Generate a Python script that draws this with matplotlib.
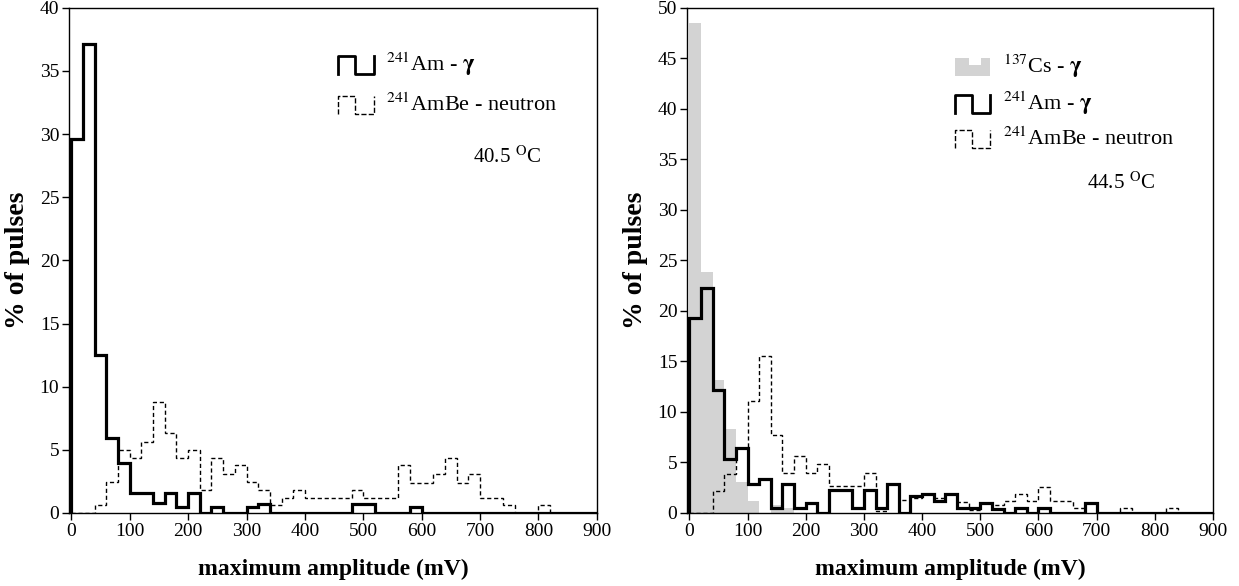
import numpy as np
import matplotlib
matplotlib.use("Agg")
import matplotlib.pyplot as plt
from matplotlib.legend_handler import HandlerBase
from matplotlib.lines import Line2D
from matplotlib.patches import Polygon

plt.rcParams['font.family'] = ['Liberation Serif', 'DejaVu Serif']
plt.rcParams['mathtext.fontset'] = 'stix'

# 20 mV bins from 0 to 900 mV
edges = np.arange(0, 901, 20)

# left panel, 40.5 C
am_left = [29.6, 37.1, 12.5, 5.95, 3.95, 1.55, 1.55, 0.8, 1.55, 0.45,
           1.55, 0, 0.45, 0, 0, 0.45, 0.75, 0, 0, 0,
           0, 0, 0, 0, 0.75, 0.75, 0, 0, 0, 0.45,
           0, 0, 0, 0, 0, 0, 0, 0, 0, 0,
           0, 0, 0, 0, 0]
ambe_left = [0, 0, 0.65, 2.45, 5.0, 4.33, 5.6, 8.8, 6.3, 4.33,
             5.0, 1.85, 4.33, 3.05, 3.8, 2.45, 1.85, 0.6, 1.2, 1.85,
             1.2, 1.2, 1.2, 1.2, 1.85, 1.2, 1.2, 1.2, 3.8, 2.4,
             2.4, 3.1, 4.33, 2.4, 3.1, 1.2, 1.2, 0.6, 0, 0,
             0.6, 0, 0, 0, 0]

# right panel, 44.5 C
cs_right = [48.5, 23.9, 13.2, 8.3, 3.1, 1.2, 0, 0.8, 0.5, 0,
            0, 0, 0, 0, 0, 0, 0, 0, 0, 0,
            0, 0, 0, 0, 0, 0, 0, 0, 0, 0,
            0, 0, 0, 0, 0, 0, 0, 0, 0, 0,
            0, 0, 0, 0, 0]
am_right = [19.3, 22.3, 12.2, 5.3, 6.4, 2.9, 3.4, 0.5, 2.9, 0.5,
            1.0, 0, 2.3, 2.3, 0.5, 2.3, 0.5, 2.9, 0, 1.7,
            1.9, 1.2, 1.9, 0.5, 0.5, 1.0, 0.4, 0, 0.5, 0,
            0.5, 0, 0, 0, 1.0, 0, 0, 0, 0, 0,
            0, 0, 0, 0, 0]
ambe_right = [0, 0, 2.2, 3.9, 6.4, 11.1, 15.5, 7.7, 4.0, 5.6,
              4.0, 4.8, 2.7, 2.7, 2.7, 4.0, 0.2, 2.9, 1.3, 1.5,
              1.9, 1.5, 1.9, 1.1, 0.3, 1.0, 0.8, 1.2, 1.9, 1.2,
              2.6, 1.2, 1.2, 0.5, 1.0, 0, 0, 0.5, 0, 0,
              0, 0.5, 0, 0, 0]

xticks = np.arange(0, 901, 100)
gray = '#d3d3d3'


class StepHandler(HandlerBase):
    def __init__(self, fill=False, **kw):
        super().__init__(**kw)
        self.fill = fill

    def create_artists(self, legend, orig_handle, xdescent, ydescent,
                       width, height, fontsize, trans):
        x0, y0 = -xdescent, -ydescent - 0.2 * height
        h = height * 1.15
        w = width
        if self.fill:
            pts = [(x0, y0), (x0, y0 + h), (x0 + 0.4 * w, y0 + h),
                   (x0 + 0.4 * w, y0 + 0.6 * h), (x0 + 0.75 * w, y0 + 0.6 * h),
                   (x0 + 0.75 * w, y0 + h), (x0 + w, y0 + h), (x0 + w, y0)]
            p = Polygon(pts, closed=True, facecolor=gray, edgecolor='none',
                        transform=trans)
            return [p]
        xs = [x0, x0, x0 + 0.48 * w, x0 + 0.48 * w, x0 + w, x0 + w]
        ys = [y0, y0 + h, y0 + h, y0, y0, y0 + h]
        ln = Line2D(xs, ys, color='black', lw=orig_handle.get_linewidth(),
                    linestyle=orig_handle.get_linestyle(), transform=trans)
        return [ln]


fig = plt.figure(figsize=(12.39, 5.86), dpi=100)
ax1 = fig.add_axes([0.0557, 0.1246, 0.426, 0.862])
ax2 = fig.add_axes([0.5545, 0.1246, 0.4245, 0.862])

# left
ax1.stairs(ambe_left, edges, color='black', lw=1.0, linestyle=(0, (3, 2)))
ax1.stairs(am_left, edges, color='black', lw=2.3)
ax1.set_ylim(0, 40)
ax1.set_yticks(np.arange(0, 41, 5))

# right
ax2.stairs(cs_right, edges, fill=True, color=gray, lw=0)
ax2.stairs(ambe_right, edges, color='black', lw=1.0, linestyle=(0, (3, 2)))
ax2.stairs(am_right, edges, color='black', lw=2.3)
ax2.set_ylim(0, 50)
ax2.set_yticks(np.arange(0, 51, 5))

for ax in (ax1, ax2):
    ax.set_xlim(-4, 900)
    ax.set_xticks(xticks)
    ax.tick_params(direction='out', length=5, width=1, labelsize=14, pad=2)
    ax.set_xlabel('maximum amplitude (mV)', fontsize=17, fontweight='bold',
                  labelpad=14)
    ax.set_ylabel('% of pulses', fontsize=20, fontweight='bold', labelpad=7)
    for s in ax.spines.values():
        s.set_linewidth(1.0)

h_am = Line2D([], [], color='black', lw=2.0)
h_ambe = Line2D([], [], color='black', lw=1.0, linestyle=(0, (3, 2)))
h_cs = Line2D([], [], color=gray, lw=6)

gam = '$\\mathbf{\\gamma}$'

ax1.legend([h_am, h_ambe],
           ['$^{241}$Am - ' + gam, '$^{241}$AmBe - neutron'],
           handler_map={h_am: StepHandler(), h_ambe: StepHandler()},
           loc='upper left', bbox_to_anchor=(0.472, 0.955),
           frameon=False, fontsize=16, handlelength=1.6,
           handletextpad=0.55, labelspacing=0.68)
ax1.text(0.765, 0.705, '40.5 $^{\\mathrm{O}}$C', transform=ax1.transAxes,
         fontsize=15, ha='left', va='center')

ax2.legend([h_cs, h_am, h_ambe],
           ['$^{137}$Cs - ' + gam, '$^{241}$Am - ' + gam,
            '$^{241}$AmBe - neutron'],
           handler_map={h_cs: StepHandler(fill=True), h_am: StepHandler(),
                        h_ambe: StepHandler()},
           loc='upper left', bbox_to_anchor=(0.471, 0.952),
           frameon=False, fontsize=16, handlelength=1.6,
           handletextpad=0.55, labelspacing=0.45)
ax2.text(0.76, 0.653, '44.5 $^{\\mathrm{O}}$C', transform=ax2.transAxes,
         fontsize=15, ha='left', va='center')

fig.savefig('out.png', dpi=100)
